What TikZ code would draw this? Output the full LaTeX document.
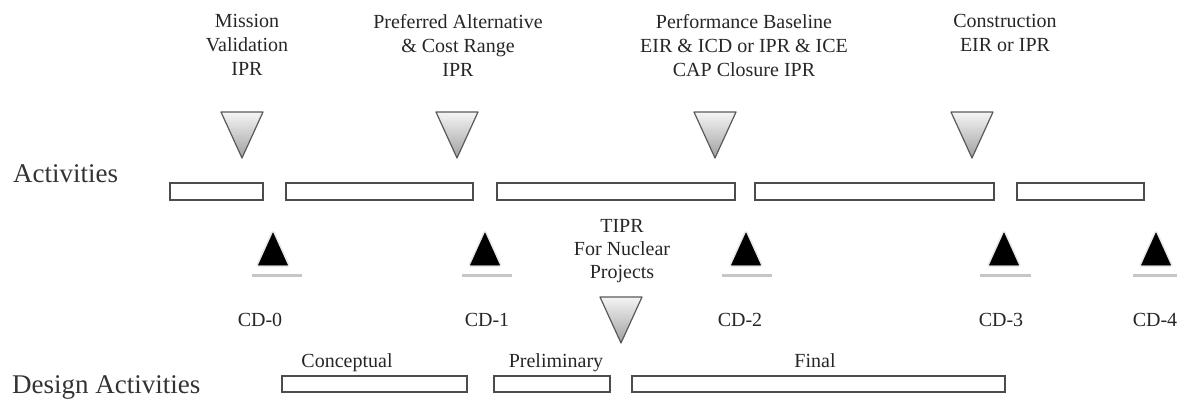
\documentclass[tikz,border=0pt]{standalone}
\usepackage{fontspec}
\setmainfont{Liberation Serif}
\usetikzlibrary{calc}
\begin{document}
\begin{tikzpicture}[x=1pt,y=-1pt,
  lbl/.style={font=\fontsize{20}{24}\selectfont, text=black!85, inner sep=0pt, align=center},
  cdlbl/.style={font=\fontsize{20}{24}\selectfont, text=black!85, inner sep=0pt, anchor=base},
  biglbl/.style={font=\fontsize{27}{30}\selectfont, text=black!80, inner sep=0pt, anchor=base west},
  barbox/.style={draw=gray!60!black, line width=1.3pt, fill=white},
  downtri/.style={draw=gray!70!black, line width=1.2pt, line join=round, top color=gray!8, bottom color=gray!75},
  uptri/.style={fill=black, draw=black, line width=0.6pt, line join=round},
  halo/.style={draw=gray!18, line width=4pt, line join=round},
  baseline bar/.style={draw=gray!45, line width=3pt}
]
\useasboundingbox (0,0) rectangle (1177,400);

% left titles
\node[biglbl] (act) at (13,182) {Activities};
\node[biglbl] (des) at (12,393) {Design Activities};

% top review labels
\node[lbl, anchor=north] (mv) at (247,14.3) {Mission\\Validation\\IPR};
\node[lbl, anchor=north] (pa) at (458,14.3) {Preferred Alternative\\\& Cost Range\\IPR};
\node[lbl, anchor=north] (pb) at (744,14.3) {Performance Baseline\\EIR \& ICD or IPR \& ICE\\CAP Closure IPR};
\node[lbl, anchor=north] (co) at (1005,14.3) {Construction\\EIR or IPR};
\node[lbl, anchor=north, font=\fontsize{20}{23}\selectfont] (tipr) at (622,219.5) {TIPR\\For Nuclear\\Projects};

% downward (review) triangles
\foreach \n/\cx/\ty in {d1/242/112, d2/457/112, d3/715/112, d4/972/112, d5/621/297}{
  \coordinate (\n) at (\cx,\ty);
  \shade[downtri] ($(\n)+(-21,0)$) -- ($(\n)+(21,0)$) -- ($(\n)+(0,46)$) -- cycle;
}

% activity bars
\foreach \n/\a/\b in {a1/170/263, a2/286/473, a3/497/735, a4/755/994, a5/1017/1144}{
  \draw[barbox] (\a,183) rectangle (\b,200);
}

% design bars
\foreach \n/\a/\b in {b1/282/467, b2/494/610, b3/632/1005}{
  \draw[barbox] (\a,376) rectangle (\b,392);
}

% CD milestones
\foreach \n/\cx/\la/\lb in {u0/273/252/302, u1/485/462/512, u2/746/722/772, u3/1004/980/1031, u4/1156/1133/1177}{
  \coordinate (\n) at (\cx,233);
  \draw[halo] ($(\n)+(-14.5,32)$) -- ($(\n)+(14.5,32)$) -- (\n) -- cycle;
  \draw[uptri] ($(\n)+(-14.5,32)$) -- ($(\n)+(14.5,32)$) -- (\n) -- cycle;
  \draw[baseline bar] (\la,275) -- (\lb,275);
}

\node[cdlbl] (cd0) at (260,326.5) {CD-0};
\node[cdlbl] (cd1) at (487,326.5) {CD-1};
\node[cdlbl] (cd2) at (740,326.5) {CD-2};
\node[cdlbl] (cd3) at (1001,326.5) {CD-3};
\node[cdlbl] (cd4) at (1155,326.5) {CD-4};

% design phase labels
\node[cdlbl] (conc) at (347,367) {Conceptual};
\node[cdlbl] (prel) at (556,367) {Preliminary};
\node[cdlbl] (fin) at (815,367) {Final};
\end{tikzpicture}
\end{document}
